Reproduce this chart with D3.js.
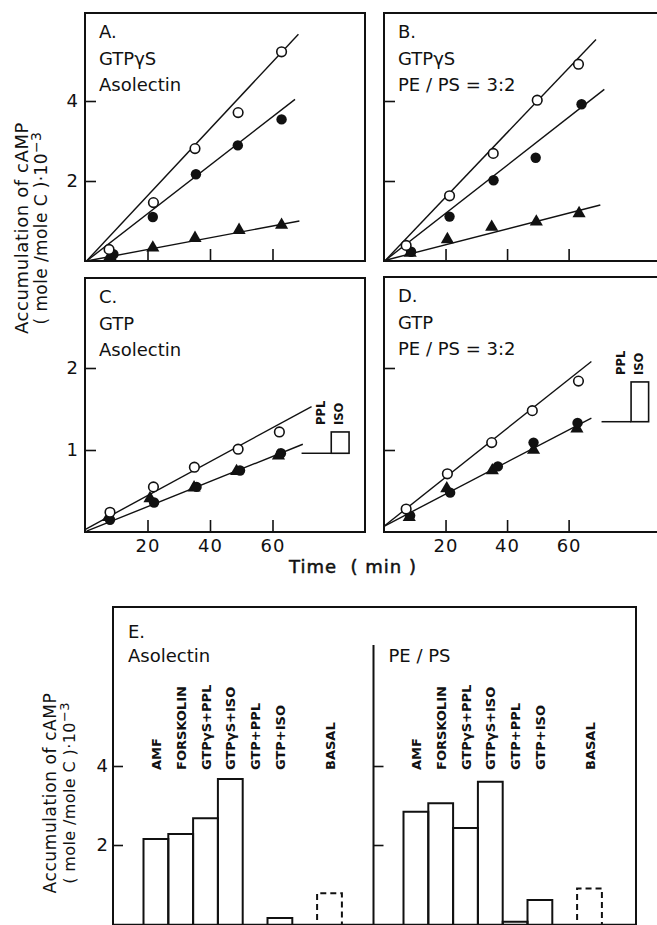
<!DOCTYPE html>
<html>
<head>
<meta charset="utf-8">
<script src="https://cdn.jsdelivr.net/npm/d3@7"></script>
<style>
  body { margin: 0; background: #fff; }
  svg { display: block; font-family: "DejaVu Sans", sans-serif; }
</style>
</head>
<body>
<svg width="657" height="925"></svg>
<script>
// ---- time courses, [time (min), cAMP (mole/mole C)·10^-3] ----
// A. GTPγS, asolectin
const aOpen   = [[7.7, 0.29], [21.9, 1.46], [35.2, 2.81], [49.0, 3.71], [62.9, 5.23]];
const aFilled = [[9.1, 0.17], [21.7, 1.10], [35.5, 2.17], [48.9, 2.89], [62.9, 3.54]];
const aTri    = [[8.0, 0.12], [21.7, 0.33], [35.2, 0.57], [49.3, 0.77], [62.9, 0.90]];
const aFits   = [[0.5, 0, 68.3, 5.67], [0.5, 0, 67.2, 4.04], [0.5, 0, 68.6, 1.00]];

// B. GTPγS, PE/PS = 3:2
const bOpen   = [[7.2, 0.39], [21.3, 1.63], [35.5, 2.69], [49.8, 4.02], [63.2, 4.92]];
const bFilled = [[8.8, 0.23], [21.3, 1.11], [35.6, 2.02], [49.3, 2.58], [64.2, 3.92]];
const bTri    = [[8.5, 0.20], [20.6, 0.54], [35.0, 0.85], [49.5, 0.98], [63.4, 1.19]];
const bFits   = [[0.5, 0.02, 68.9, 5.54], [0.5, 0.02, 71.6, 4.29], [0.5, 0.02, 70.3, 1.40]];

// C. GTP, asolectin
const cOpen   = [[8.0, 0.24], [21.9, 0.55], [35.0, 0.79], [49.0, 1.01], [62.2, 1.22]];
const cFilled = [[8.0, 0.15], [22.1, 0.36], [35.7, 0.55], [49.6, 0.75], [62.7, 0.96]];
const cTri    = [[7.5, 0.18], [20.8, 0.41], [34.9, 0.54], [48.5, 0.74], [61.9, 0.93]];
const cFits   = [[0, 0.03, 72.5, 1.53], [0.5, 0.01, 69.7, 1.07]];
const cPplIso = [0.96, 1.22];

// D. GTP, PE/PS = 3:2
const dOpen   = [[7.2, 0.28], [20.6, 0.71], [35.0, 1.09], [48.2, 1.48], [63.2, 1.84]];
const dFilled = [[8.5, 0.20], [21.5, 0.48], [37.0, 0.80], [48.6, 1.09], [62.9, 1.33]];
const dTri    = [[8.2, 0.18], [20.4, 0.53], [35.2, 0.75], [48.6, 1.00], [62.7, 1.26]];
const dFits   = [[0, 0.07, 67.4, 2.08], [0, 0.07, 67.4, 1.39]];
const dPplIso = [1.345, 1.83];

const timeTicks = [20, 40, 60];

// ---- E. bar chart ----
const categories = ["AMF", "FORSKOLIN", "GTPγS+PPL", "GTPγS+ISO", "GTP+PPL", "GTP+ISO", "BASAL"];
const asolectinVals = [2.15, 2.28, 2.68, 3.67, 0, 0.15, 0.78];
const pePsVals      = [2.84, 3.06, 2.43, 3.60, 0.06, 0.61, 0.90];
const barTicks = [2, 4];

const svg = d3.select("svg");
const ink = "#111";

// panel layout
const panels = [
  { name: "A.", lines: ["GTPγS", "Asolectin"], left: 85, top: 13, bottom: 261, tMax: 89.6, vMax: 6.2,
    yTicks: [2, 4], yLab: true, xLab: false, open: aOpen, filled: aFilled, tri: aTri, fits: aFits },
  { name: "B.", lines: ["GTPγS", "PE / PS = 3:2"], left: 384, top: 13, bottom: 261, tMax: 91, vMax: 6.2,
    yTicks: [2, 4], yLab: false, xLab: false, open: bOpen, filled: bFilled, tri: bTri, fits: bFits },
  { name: "C.", lines: ["GTP", "Asolectin"], left: 85, top: 278, bottom: 532, tMax: 89.6, vMax: 254 / 82,
    yTicks: [1, 2], yLab: true, xLab: true, open: cOpen, filled: cFilled, tri: cTri, fits: cFits,
    box: cPplIso, boxT: [69.3, 78.8, 84.5] },
  { name: "D.", lines: ["GTP", "PE / PS = 3:2"], left: 384, top: 277, bottom: 532, tMax: 91, vMax: 255 / 82,
    yTicks: [1, 2], yLab: false, xLab: true, open: dOpen, filled: dFilled, tri: dTri, fits: dFits,
    box: dPplIso, boxT: [70.7, 80.3, 86] }
];

panels.forEach(p => {
  const x = d3.scaleLinear().domain([0, p.tMax]).range([p.left, p.left + 280]);
  const y = d3.scaleLinear().domain([0, p.vMax]).range([p.bottom, p.top]);
  const g = svg.append("g");

  // fitted lines
  g.selectAll("line.fit").data(p.fits).enter().append("line")
    .attr("x1", d => x(d[0])).attr("y1", d => y(d[1]))
    .attr("x2", d => x(d[2])).attr("y2", d => y(d[3]))
    .attr("stroke", ink).attr("stroke-width", 1.4);

  // markers
  g.selectAll("path.tri").data(p.tri).enter().append("path")
    .attr("d", d3.symbol(d3.symbolTriangle, 75))
    .attr("transform", d => "translate(" + x(d[0]) + "," + y(d[1]) + ")")
    .attr("fill", ink);
  g.selectAll("circle.filled").data(p.filled).enter().append("circle")
    .attr("cx", d => x(d[0])).attr("cy", d => y(d[1])).attr("r", 5.2)
    .attr("fill", ink);
  g.selectAll("circle.open").data(p.open).enter().append("circle")
    .attr("cx", d => x(d[0])).attr("cy", d => y(d[1])).attr("r", 4.8)
    .attr("fill", "#fff").attr("stroke", ink).attr("stroke-width", 1.6);

  // frame
  g.append("rect")
    .attr("x", p.left).attr("y", p.top)
    .attr("width", 280).attr("height", p.bottom - p.top)
    .attr("fill", "none").attr("stroke", ink).attr("stroke-width", 2);

  // axes (ticks point inward)
  const ya = g.append("g").attr("transform", "translate(" + p.left + ",0)")
    .call(d3.axisLeft(y).tickValues(p.yTicks).tickSize(-11).tickPadding(6)
      .tickFormat(p.yLab ? d3.format("d") : () => ""));
  const xa = g.append("g").attr("transform", "translate(0," + p.bottom + ")")
    .call(d3.axisBottom(x).tickValues(timeTicks).tickSize(-12).tickPadding(7)
      .tickFormat(p.xLab ? d3.format("d") : () => ""));
  [ya, xa].forEach(a => {
    a.select(".domain").remove();
    a.selectAll("line").attr("stroke", ink).attr("stroke-width", 1.6);
    a.selectAll("text").attr("fill", ink).attr("font-size", 18)
      .attr("font-family", "DejaVu Sans").attr("letter-spacing", 1);
  });

  // panel captions
  g.selectAll("text.cap").data([p.name].concat(p.lines)).enter().append("text")
    .attr("x", p.left + 14)
    .attr("y", (d, i) => p.top + 25 + i * 26.5)
    .attr("font-size", 18)
    .attr("fill", ink)
    .text(d => d);

  // PPL / ISO difference marker
  if (p.box) {
    const t = p.boxT;
    g.append("line")
      .attr("x1", x(t[0])).attr("x2", x(t[1]))
      .attr("y1", y(p.box[0])).attr("y2", y(p.box[0]))
      .attr("stroke", ink).attr("stroke-width", 1.5);
    g.append("rect")
      .attr("x", x(t[1])).attr("y", y(p.box[1]))
      .attr("width", x(t[2]) - x(t[1])).attr("height", y(p.box[0]) - y(p.box[1]))
      .attr("fill", "none").attr("stroke", ink).attr("stroke-width", 1.6);
    const top = y(p.box[1]) - 7;
    [["PPL", x(t[1]) - 6], ["ISO", x(t[1]) + 12]].forEach(([s, cx]) => {
      g.append("text")
        .attr("transform", "translate(" + cx + "," + top + ") rotate(-90)")
        .attr("font-size", 11.5).attr("font-weight", "bold").attr("fill", ink)
        .text(s);
    });
  }
});

// shared labels for A–D
function yTitle(cx, cy, size, gap) {
  const t = svg.append("g").attr("transform", "translate(" + cx + "," + cy + ") rotate(-90)");
  t.append("text").attr("text-anchor", "middle").attr("font-size", size)
    .attr("letter-spacing", 0.6).attr("fill", ink)
    .text("Accumulation  of  cAMP");
  const l2 = t.append("text").attr("y", gap).attr("text-anchor", "middle")
    .attr("font-size", size - 1).attr("letter-spacing", 0.4).attr("fill", ink);
  l2.append("tspan").text("( mole /mole C )·10");
  l2.append("tspan").attr("dy", -6).attr("font-size", size - 4).text("−3");
}
yTitle(28, 228, 18, 19);

svg.append("text")
  .attr("x", 353).attr("y", 573)
  .attr("text-anchor", "middle").attr("font-size", 18).attr("letter-spacing", 1)
  .attr("stroke", ink).attr("stroke-width", 0.5).attr("fill", ink)
  .attr("xml:space", "preserve")
  .text("Time  ( min )");

// ---- panel E ----
const yE = d3.scaleLinear().domain([0, 4]).range([924, 766]);
const slots = categories.slice(0, 6).concat(["", "BASAL"]);

svg.append("path")
  .attr("d", "M113,930V607H636V930")
  .attr("fill", "none").attr("stroke", ink).attr("stroke-width", 2);
svg.append("line")
  .attr("x1", 113).attr("x2", 636).attr("y1", 924.5).attr("y2", 924.5)
  .attr("stroke", ink).attr("stroke-width", 1.5);
svg.append("line")
  .attr("x1", 373.5).attr("x2", 373.5).attr("y1", 645).attr("y2", 930)
  .attr("stroke", ink).attr("stroke-width", 2);

[
  { left: 113, barStart: 143.5, vals: asolectinVals, title: "Asolectin", labels: true },
  { left: 373.5, barStart: 403.5, vals: pePsVals, title: "PE / PS", labels: false }
].forEach(s => {
  const xb = d3.scaleBand().domain(slots).range([s.barStart, s.barStart + 8 * 24.8]);
  const g = svg.append("g");
  const bars = categories.map((c, i) => ({ c, v: s.vals[i] })).filter(d => d.v > 0);
  g.selectAll("path.bar").data(bars).enter().append("path")
    .attr("d", d => {
      const x0 = xb(d.c), x1 = x0 + xb.bandwidth();
      return "M" + x0 + ",930V" + yE(d.v) + "H" + x1 + "V930";
    })
    .attr("fill", "none").attr("stroke", ink).attr("stroke-width", 2)
    .attr("stroke-dasharray", d => d.c === "BASAL" ? "6,4" : null);

  g.selectAll("text.bl").data(categories).enter().append("text")
    .attr("transform", d => "translate(" + (xb(d) + xb.bandwidth() / 2 + 5) + ",770) rotate(-90)")
    .attr("font-size", 13).attr("font-weight", "bold").attr("fill", ink)
    .text(d => d);

  const ax = g.append("g").attr("transform", "translate(" + s.left + ",0)")
    .call(d3.axisLeft(yE).tickValues(barTicks).tickSize(-10).tickPadding(5)
      .tickFormat(s.labels ? d3.format("d") : () => ""));
  ax.select(".domain").remove();
  ax.selectAll("line").attr("stroke", ink).attr("stroke-width", 1.6);
  ax.selectAll("text").attr("fill", ink).attr("font-size", 18).attr("font-family", "DejaVu Sans");

  g.append("text").attr("x", s.left + 15).attr("y", 662)
    .attr("font-size", 18).attr("fill", ink).text(s.title);
});
svg.append("text").attr("x", 128).attr("y", 638)
  .attr("font-size", 18).attr("fill", ink).text("E.");

yTitle(56, 793, 17, 19);
</script>
</body>
</html>
